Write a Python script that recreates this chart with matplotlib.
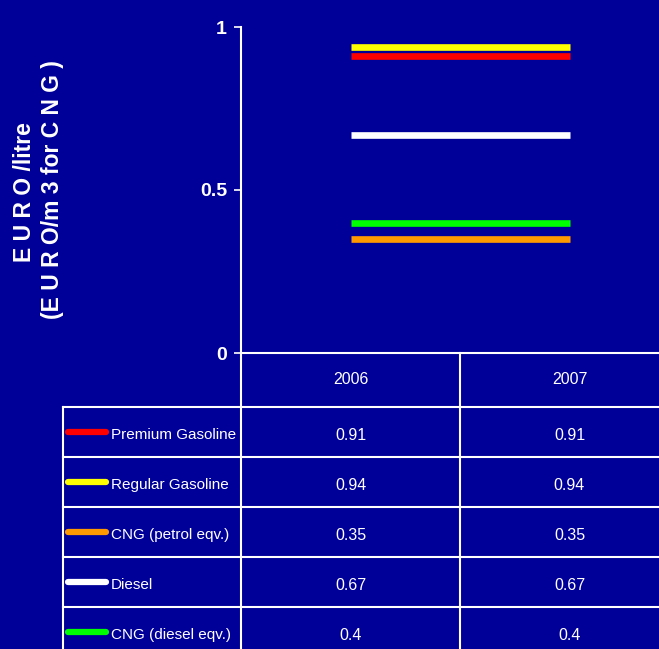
import matplotlib.pyplot as plt

# dados
years = ['2006', '2007']
fuels = ['Premium Gasoline', 'Regular Gasoline', 'CNG (petrol eqv.)', 'Diesel', 'CNG (diesel eqv.)']
prices = {
    'Premium Gasoline': [0.91, 0.91],
    'Regular Gasoline': [0.94, 0.94],
    'CNG (petrol eqv.)': [0.35, 0.35],
    'Diesel': [0.67, 0.67],
    'CNG (diesel eqv.)': [0.4, 0.4],
}
value_labels = {
    'Premium Gasoline': ['0.91', '0.91'],
    'Regular Gasoline': ['0.94', '0.94'],
    'CNG (petrol eqv.)': ['0.35', '0.35'],
    'Diesel': ['0.67', '0.67'],
    'CNG (diesel eqv.)': ['0.4', '0.4'],
}
colors = ['#ff0000', '#ffff00', '#ff9900', '#ffffff', '#00ff00']
yticks = [0, 0.5, 1]
ytick_labels = ['0', '0.5', '1']

bg = '#000099'
W, H = 659, 649
font = 'Liberation Sans'

fig = plt.figure(figsize=(W / 100, H / 100), dpi=100, facecolor=bg)

# layout em pixels
x_axis = 241
x_col2 = 460
col_w = x_col2 - x_axis
y_top = 27
y_zero = 353
y_head = 407
row_h = 50
x_tab = 63


def fx(px):
    return px / W


def fy(py):
    return 1 - py / H


# grafico
ax = fig.add_axes([fx(x_axis), fy(y_zero), fx(2 * col_w), (y_zero - y_top) / H])
ax.set_facecolor(bg)
for name, c in zip(fuels, colors):
    ax.plot(range(len(years)), prices[name], color=c, lw=4.8, solid_capstyle='butt', zorder=3)
ax.set_xlim(-0.5, 1.5)
ax.set_ylim(0, 1)
ax.set_xticks([])
ax.set_yticks(yticks)
ax.set_yticklabels(ytick_labels, family=font, fontweight='bold', fontsize=14, color='white')
ax.tick_params(axis='y', colors='white', length=5, width=1.2, pad=5)
for s in ['top', 'right']:
    ax.spines[s].set_visible(False)
ax.spines['left'].set_color('white')
ax.spines['bottom'].set_color('white')
ax.spines['left'].set_linewidth(1.5)
ax.spines['bottom'].set_linewidth(1.5)

# rotulo do eixo y
fig.text(fx(25), fy(192), 'E U R O /litre', rotation=90, ha='center', va='center',
         color='white', fontsize=16.5, fontweight='bold', family=font)
fig.text(fx(53), fy(190), '(E U R O/m 3 for C N G )', rotation=90, ha='center', va='center',
         color='white', fontsize=16.5, fontweight='bold', family=font)

# tabela
tab = fig.add_axes([0, 0, 1, 1])
tab.set_xlim(0, W)
tab.set_ylim(H, 0)
tab.axis('off')
tab.patch.set_alpha(0)

lc = 'white'
lw = 1.5
n = len(fuels)
y_bottom = y_head + row_h * n
tab.plot([x_axis, x_axis], [y_zero, y_bottom], color=lc, lw=lw)
tab.plot([x_col2, x_col2], [y_zero, y_bottom], color=lc, lw=lw)
tab.plot([x_tab, x_tab], [y_head, y_bottom], color=lc, lw=lw)
for i in range(n + 1):
    yy = y_head + row_h * i
    tab.plot([x_tab, W], [yy, yy], color=lc, lw=lw)

for j, yr in enumerate(years):
    cx = x_axis + col_w * (j + 0.5)
    tab.text(cx, (y_zero + y_head) / 2 - 1, yr, ha='center', va='center', color='white',
             fontsize=11.5, family=font)

for i, (name, c) in enumerate(zip(fuels, colors)):
    cy = y_head + row_h * (i + 0.5)
    tab.plot([68, 106], [cy, cy], color=c, lw=4.5, solid_capstyle='round')
    tab.text(111, cy + 3, name, ha='left', va='center', color='white', fontsize=11, family=font)
    for j in range(len(years)):
        cx = x_axis + col_w * (j + 0.5)
        tab.text(cx, cy + 3, value_labels[name][j], ha='center', va='center', color='white',
                 fontsize=11.5, family=font)

fig.savefig('out.png', dpi=100, facecolor=bg)
